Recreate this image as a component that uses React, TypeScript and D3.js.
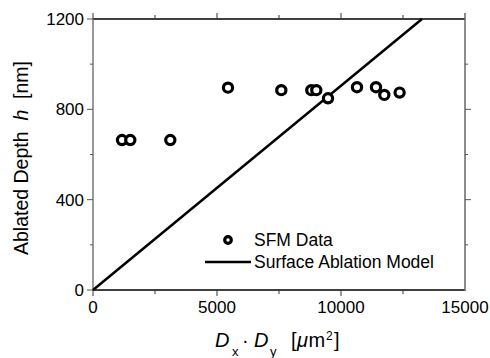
import React, { useEffect, useRef } from 'react';
import * as d3 from 'd3';

// SFM measurements: product of crater diameters vs ablated depth
const areaValues = [1169, 1504, 3117, 5443, 7593, 8803, 9004, 9476, 10645, 11411, 11746, 12363];
const depthValues = [664, 664, 664, 896, 885, 885, 885, 849, 898, 898, 864, 874];
// surface ablation model (straight line through origin)
const modelArea = [0, 13266];
const modelDepth = [0, 1200];
const xTicks = [0, 5000, 10000, 15000];
const xMinor = [2500, 7500, 12500];
const yTicks = [0, 400, 800, 1200];
const yMinor = [200, 600, 1000];

const W = 490;
const H = 358;
const margin = { top: 19, right: 25, bottom: 68, left: 93 };
const FONT = 'Arial, "Liberation Sans", Helvetica, sans-serif';

const App = () => {
  const svgRef = useRef<SVGSVGElement>(null);

  useEffect(() => {
    const svg = d3.select(svgRef.current);
    svg.selectAll('*').remove();

    const x = d3.scaleLinear().domain([0, 15000]).range([margin.left, W - margin.right]);
    const y = d3.scaleLinear().domain([0, 1200]).range([H - margin.bottom, margin.top]);
    const x0 = x(0), x1 = x(15000), y0 = y(0), y1 = y(1200);

    // frame: top/bottom black, sides grey
    svg.append('line').attr('x1', x0).attr('x2', x1).attr('y1', y0).attr('y2', y0)
      .attr('stroke', '#000').attr('stroke-width', 1.5);
    svg.append('line').attr('x1', x0).attr('x2', x1).attr('y1', y1).attr('y2', y1)
      .attr('stroke', '#000').attr('stroke-width', 1.5);
    svg.append('line').attr('x1', x0).attr('x2', x0).attr('y1', y0 + 0.5).attr('y2', y1 - 0.5)
      .attr('stroke', '#777').attr('stroke-width', 1.5);
    svg.append('line').attr('x1', x1).attr('x2', x1).attr('y1', y0 + 1).attr('y2', y1 - 6)
      .attr('stroke', '#666').attr('stroke-width', 1.5);

    const tickG = svg.append('g').attr('stroke-width', 1);
    // x ticks bottom (down) and top (up)
    xTicks.concat(xMinor).forEach(v => {
      const len = xTicks.includes(v) ? 6 : 4;
      if (v !== 15000) {
        tickG.append('line').attr('x1', x(v)).attr('x2', x(v)).attr('y1', y0).attr('y2', y0 + len).attr('stroke', '#333');
        tickG.append('line').attr('x1', x(v)).attr('x2', x(v)).attr('y1', y1).attr('y2', y1 - len).attr('stroke', '#333');
      }
    });
    // y ticks left (out) and right (out)
    yTicks.concat(yMinor).forEach(v => {
      const len = yTicks.includes(v) ? 6 : 3;
      tickG.append('line').attr('x1', x0).attr('x2', x0 - len).attr('y1', y(v)).attr('y2', y(v)).attr('stroke', '#555');
      if (v !== 0 && v !== 1200)
        tickG.append('line').attr('x1', x1).attr('x2', x1 + len).attr('y1', y(v)).attr('y2', y(v)).attr('stroke', '#555');
    });

    // tick labels
    svg.append('g').selectAll('text').data(xTicks).enter().append('text')
      .attr('x', d => x(d)).attr('y', y0 + 23)
      .attr('text-anchor', 'middle')
      .style('font-family', FONT).style('font-size', '17px').attr('fill', '#000')
      .text(d => String(d));
    svg.append('g').selectAll('text').data(yTicks).enter().append('text')
      .attr('x', x0 - 9).attr('y', d => y(d)).attr('dy', '0.36em')
      .attr('text-anchor', 'end')
      .style('font-family', FONT).style('font-size', '17px').attr('fill', '#000')
      .text(d => String(d));

    // model line
    const line = d3.line<number>().x((d, i) => x(modelArea[i])).y(d => y(d));
    svg.append('path').datum(modelDepth).attr('d', line)
      .attr('fill', 'none').attr('stroke', '#000').attr('stroke-width', 2.5);

    // data circles
    svg.append('g').selectAll('circle').data(areaValues).enter().append('circle')
      .attr('cx', d => x(d)).attr('cy', (d, i) => y(depthValues[i]))
      .attr('r', 4.6).attr('fill', '#fff').attr('stroke', '#000').attr('stroke-width', 3.2);

    // legend
    const lg = svg.append('g');
    lg.append('circle').attr('cx', 228).attr('cy', 240).attr('r', 3.3)
      .attr('fill', '#fff').attr('stroke', '#000').attr('stroke-width', 3.2);
    lg.append('line').attr('x1', 205).attr('x2', 251).attr('y1', 262).attr('y2', 262)
      .attr('stroke', '#000').attr('stroke-width', 2.5);
    lg.append('text').attr('x', 254).attr('y', 246)
      .style('font-family', FONT).style('font-size', '17.5px').text('SFM Data');
    lg.append('text').attr('x', 254).attr('y', 268)
      .style('font-family', FONT).style('font-size', '17.5px').text('Surface Ablation Model');

    // x axis title, pieces placed relative to the plot centre
    const cx = (x0 + x1) / 2;
    const xt = svg.append('g').style('font-family', FONT).attr('fill', '#000');
    const piece = (dx: number, yy: number, size: number, txt: string, italic = false) =>
      xt.append('text').attr('x', cx + dx).attr('y', yy)
        .style('font-size', `${size}px`).style('font-style', italic ? 'italic' : 'normal').text(txt);
    piece(-64, 347, 20, 'D', true);
    piece(-47, 356, 13, 'x');
    piece(-37, 347, 20, '\u00B7');
    piece(-25, 347, 20, 'D', true);
    piece(-9, 356, 13, 'y');
    piece(12, 347, 20, '[');
    piece(18, 347, 20, '\u03BC', true);
    piece(29.5, 347, 20, 'm');
    piece(47, 340, 12, '2');
    piece(55, 347, 20, ']');

    // y axis title
    const yt = svg.append('text')
      .attr('transform', `translate(28,158) rotate(-90)`)
      .attr('text-anchor', 'middle')
      .style('font-family', FONT).style('font-size', '19.5px');
    yt.append('tspan').text('Ablated Depth\u00A0 ');
    yt.append('tspan').style('font-style', 'italic').text('h');
    yt.append('tspan').text('\u00A0 [nm]');
  }, []);

  return (
    <svg ref={svgRef} width={W} height={H}
      style={{ position: 'absolute', left: 0, top: 0, background: '#fff' }} />
  );
};

export default App;
